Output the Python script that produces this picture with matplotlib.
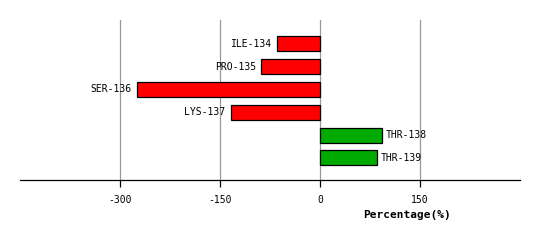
import matplotlib
matplotlib.use("Agg")
import matplotlib.pyplot as plt

# Data
residues = ["ILE-134", "PRO-135", "SER-136", "LYS-137", "THR-138", "THR-139"]
percentages = [-64, -88, -274, -134, 93, 85]
ticks = [-300, -150, 0, 150]

plt.rcParams["font.family"] = ["DejaVu Sans Mono", "DejaVu Sans"]

fig = plt.figure(figsize=(5.4, 2.4), dpi=100)
ax = fig.add_axes([20 / 540, 60 / 240, 500 / 540, 160 / 240])

colors = ["#ff0000" if v < 0 else "#00aa00" for v in percentages]
pos = list(range(len(residues)))
ax.barh(pos, percentages, height=0.66, color=colors, edgecolor="black", linewidth=0.9, zorder=3)

# labels next to the bar ends
for i, (name, v) in enumerate(zip(residues, percentages)):
    if v < 0:
        ax.annotate(name, (v, i), xytext=(-4, 0), textcoords="offset points",
                    ha="right", va="center", fontsize=7)
    else:
        ax.annotate(name, (v, i), xytext=(3, 0), textcoords="offset points",
                    ha="left", va="center", fontsize=7)

ax.set_xlim(-450, 300)
ax.set_ylim(5 + 0.97, -1.04)
ax.set_xticks(ticks)
ax.set_xticklabels([str(t) for t in ticks], fontsize=7)
ax.set_yticks([])
ax.tick_params(axis="x", length=5, width=0.9, pad=6)
ax.grid(True, axis="x", color="#999999", linewidth=0.9, zorder=0)

for s in ["top", "right", "left"]:
    ax.spines[s].set_visible(False)
ax.spines["bottom"].set_linewidth(0.9)

fig.text(407 / 540, 1 - 215 / 240, "Percentage(%)", ha="center", va="center",
         fontsize=8, fontweight="bold")

fig.savefig("out.png", dpi=100)
